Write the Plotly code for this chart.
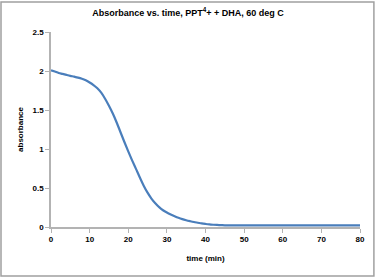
import plotly.graph_objects as go

time_min = list(range(0, 81))
absorbance = [2.010, 1.993, 1.975, 1.963, 1.950, 1.938, 1.927, 1.915, 1.900, 1.880,
              1.853, 1.820, 1.778, 1.722, 1.645, 1.555, 1.455, 1.340, 1.215, 1.090,
              0.970, 0.855, 0.745, 0.635, 0.530, 0.440, 0.365, 0.305, 0.255, 0.215,
              0.185, 0.160, 0.138, 0.118, 0.101, 0.087, 0.075, 0.064, 0.055, 0.046,
              0.039, 0.033, 0.029, 0.026, 0.024] + [0.022] * 36

title_text = "Absorbance vs. time, PPT<sup>4</sup>+ + DHA, 60 deg C"
x_title = "time (min)"
y_title = "absorbance"

fig = go.Figure()
fig.add_trace(go.Scatter(x=time_min, y=absorbance, mode="lines",
                         line=dict(color="#4a7ebb", width=2.2, shape="spline"),
                         showlegend=False))

axis_font = dict(family="Liberation Sans Narrow, Liberation Sans, Arial", size=8,
                 color="black", weight="bold")
fig.update_layout(
    width=376, height=278,
    margin=dict(l=51, r=16, t=32, b=51),
    paper_bgcolor="white", plot_bgcolor="white",
    title=dict(text="<b>" + title_text + "</b>", x=0.5, xanchor="center", y=0.955, yanchor="middle",
               font=dict(family="Liberation Sans Narrow, Liberation Sans, Arial", size=9, color="black")),
    xaxis=dict(range=[0, 80], tickvals=list(range(0, 81, 10)), showgrid=False, zeroline=False,
               showline=True, linecolor="#b3b3b3", linewidth=1.5, ticks="outside", ticklen=4,
               tickcolor="#b3b3b3", tickfont=axis_font,
               title=dict(text=x_title, font=axis_font, standoff=12)),
    yaxis=dict(range=[0, 2.5], tickvals=[0, 0.5, 1, 1.5, 2, 2.5], showgrid=False, zeroline=False,
               showline=True, linecolor="#b3b3b3", linewidth=1.5, ticks="outside", ticklen=4,
               tickcolor="#b3b3b3", tickfont=axis_font,
               title=dict(text=y_title, font=axis_font, standoff=8)),
    shapes=[dict(type="rect", xref="paper", yref="paper",
                 x0=-0.1618, x1=1.045, y0=-0.2513, y1=1.1538,
                 line=dict(color="#a0a0a0", width=1.5))],
)

fig.write_html("out.html", config={"displayModeBar": False},
               post_script="document.body.style.margin='0';")
